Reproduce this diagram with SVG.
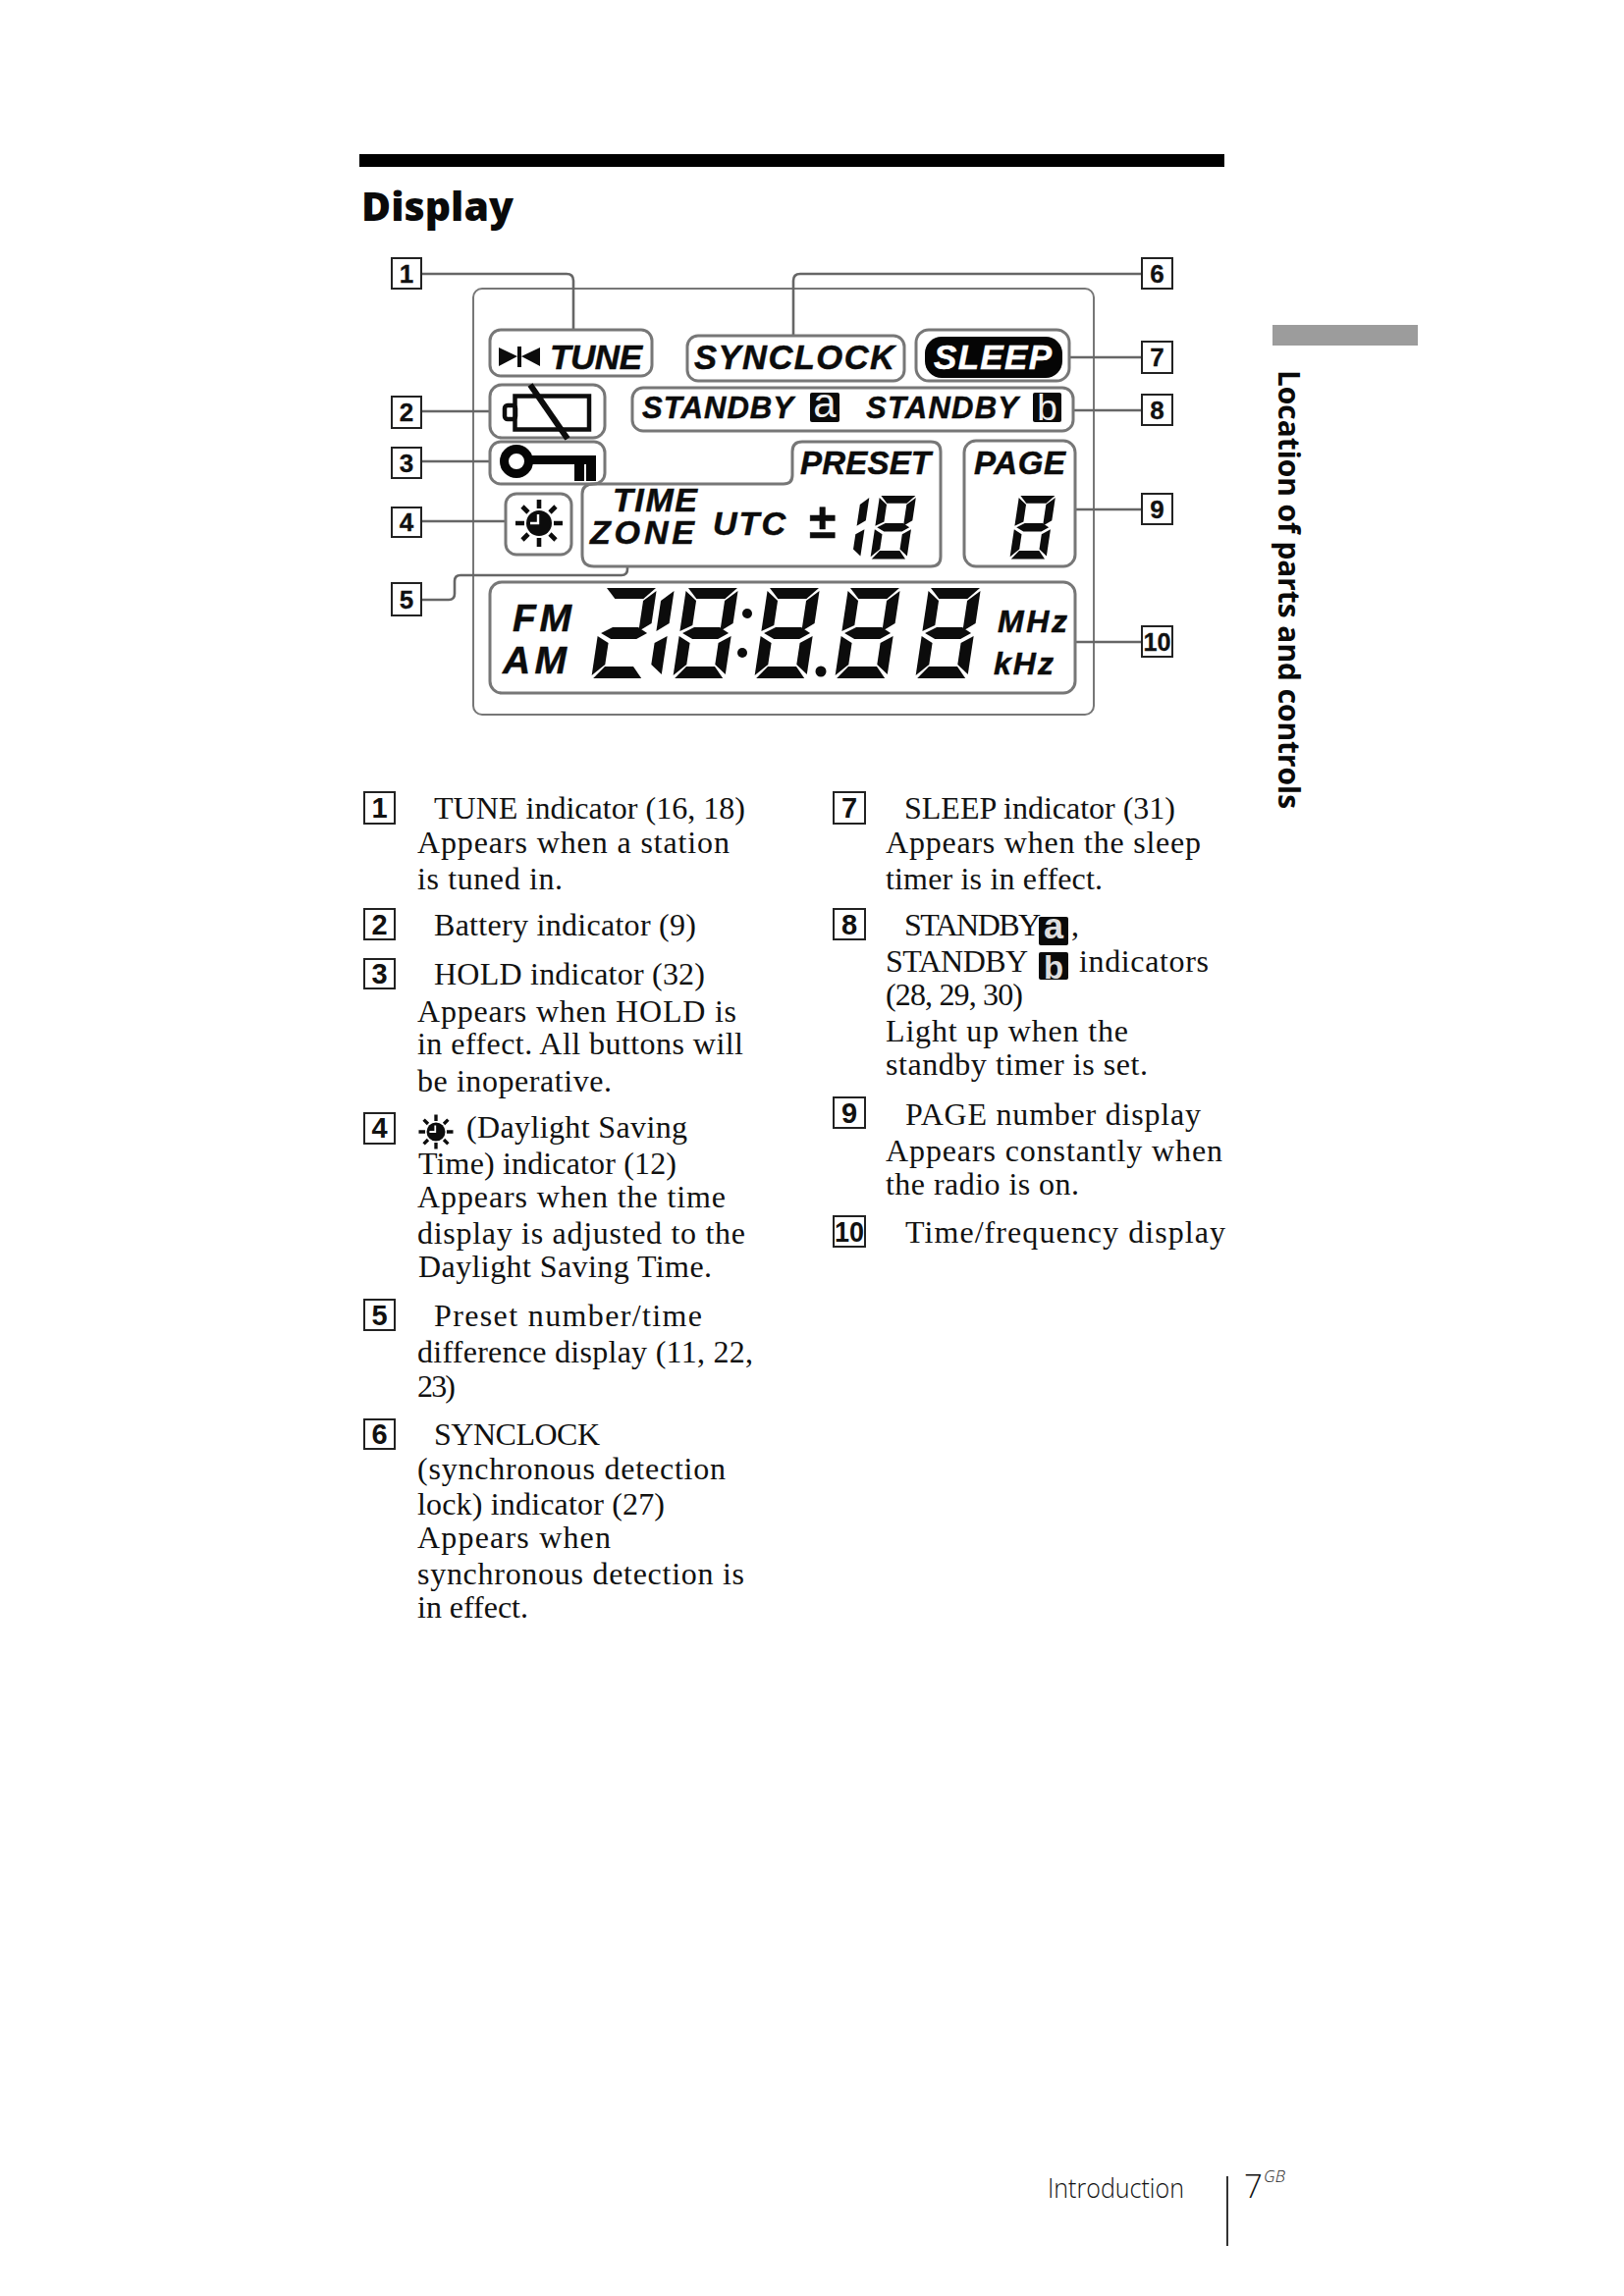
<svg xmlns="http://www.w3.org/2000/svg" width="1654" height="2339" viewBox="0 0 1654 2339">
<style>
.b{font-family:"Liberation Serif",serif;font-size:32px;fill:#111}
.lcd{font-family:"Liberation Sans",Arial,sans-serif;font-weight:700;font-style:italic;fill:#0c0c0c;stroke:#0c0c0c;stroke-width:.5}
.n{fill:#fff;stroke:#222;stroke-width:2}
.nt{font-family:"Liberation Sans",Arial,sans-serif;font-weight:700;font-size:26px;fill:#111;stroke:#111;stroke-width:.3;text-anchor:middle}
.lt{font-family:"Liberation Sans",Arial,sans-serif;font-weight:700;font-size:29px;fill:#111;text-anchor:middle}
.f{fill:none;stroke:#777;stroke-width:3}
.c{fill:none;stroke:#666;stroke-width:2.6}
.ray{stroke:#0c0c0c;stroke-width:4.6;fill:none}
</style>
<defs>
<path id="sa" d="M2,0H52L41,11H12Z"/>
<path id="sb" d="M53,3V36L41,44V13Z"/>
<path id="sc" d="M53,49V88L41,78V56Z"/>
<path id="sd" d="M12,80H41L51,92H2Z"/>
<path id="se" d="M0,49L12,56V78L0,89Z"/>
<path id="sf" d="M0,3L12,13V38L0,44Z"/>
<path id="sg" d="M3,46L14,40H40L50,46L40,52H14Z"/>
<g id="d8"><use href="#sa"/><use href="#sb"/><use href="#sc"/><use href="#sd"/><use href="#se"/><use href="#sf"/><use href="#sg"/></g>
<g id="d2"><use href="#sa"/><use href="#sb"/><use href="#sd"/><use href="#se"/><use href="#sg"/></g>
<g id="d1"><use href="#sb"/><use href="#sc"/></g>
<g id="sun">
<circle r="13" fill="#0c0c0c"/>
<path d="M-1,-9V0H-9" fill="none" stroke="#fff" stroke-width="2.4"/>
<path class="ray" d="M0,-24V-15M0,15V24M-24,0H-15M15,0H24M-17,-17L-11,-11M17,-17L11,-11M-17,17L-11,11M17,17L11,11"/>
</g>
</defs>
<rect width="1654" height="2339" fill="#fff"/>

<g id="page-header">
<rect x="366" y="157" width="881" height="13" fill="#000"/>
<text x="368" y="225" font-family="'Open Sans',sans-serif" font-weight="800" font-size="41" fill="#0a0a0a" textLength="155" lengthAdjust="spacingAndGlyphs">Display</text>
</g>

<g id="side-tab">
<rect x="1296" y="331" width="148" height="21" fill="#9c9c9c"/>
<text transform="translate(1302,377) rotate(90)" font-family="'Open Sans',sans-serif" font-weight="700" font-size="31" fill="#0a0a0a" textLength="447" lengthAdjust="spacingAndGlyphs">Location of parts and controls</text>
</g>

<g id="panel"><rect x="482" y="294" width="632" height="434" rx="9" fill="none" stroke="#777" stroke-width="2"/></g>

<g id="connectors">
<path class="c" d="M429,279H577Q584,279 584,286V336"/>
<path class="c" d="M1163,279H815Q808,279 808,286V342"/>
<path class="c" d="M429,419H499"/>
<path class="c" d="M429,470H499"/>
<path class="c" d="M429,531H515"/>
<path class="c" d="M429,611H457Q463,611 463,605V592Q463,586 469,586H633Q639,586 639,580V577"/>
<path class="c" d="M1089,364H1163"/>
<path class="c" d="M1094,418H1163"/>
<path class="c" d="M1095,519H1163"/>
<path class="c" d="M1095,654H1163"/>
</g>

<g id="lcd-tune">
<rect class="f" x="499" y="336" width="165" height="47" rx="11"/>
<path fill="#0c0c0c" d="M508,354L527,363L508,373ZM550,354L531,363L550,373ZM527,353h4v21h-4Z"/>
<text class="lcd" x="560" y="376" font-size="35" textLength="94">TUNE</text>
</g>
<g id="lcd-synclock">
<rect class="f" x="700" y="342" width="221" height="46" rx="11"/>
<text class="lcd" x="707" y="376" font-size="34.500" textLength="204">SYNCLOCK</text>
</g>
<g id="lcd-sleep">
<rect class="f" x="933" y="336" width="156" height="52" rx="13"/>
<rect x="942" y="343" width="140" height="42" rx="17" fill="#050505"/>
<text class="lcd" x="951" y="376" font-size="35" textLength="120" style="fill:#fff;stroke:#fff">SLEEP</text>
</g>
<g id="lcd-standby">
<rect class="f" x="644" y="395" width="449" height="44" rx="11"/>
<text class="lcd" x="654" y="426" font-size="31" textLength="154">STANDBY</text>
<rect x="825" y="400" width="30" height="30" rx="2" fill="#0a0a0a"/>
<text x="840" y="425" font-family="'Liberation Sans',sans-serif" font-size="42" fill="#eee" text-anchor="middle">a</text>
<text class="lcd" x="882" y="426" font-size="31" textLength="155">STANDBY</text>
<rect x="1052" y="400" width="29" height="30" rx="2" fill="#0a0a0a"/>
<text x="1066.500" y="428" font-family="'Liberation Sans',sans-serif" font-size="37" fill="#eee" text-anchor="middle">b</text>
</g>
<g id="lcd-battery">
<rect class="f" x="499" y="392" width="117" height="54" rx="12"/>
<rect x="524.500" y="403.500" width="75.500" height="34" fill="none" stroke="#0c0c0c" stroke-width="4.500"/>
<rect x="514" y="413" width="11" height="14" rx="3" fill="none" stroke="#0c0c0c" stroke-width="4.500"/>
<path d="M540,392L578,447" stroke="#0c0c0c" stroke-width="6" fill="none"/>
</g>
<g id="lcd-hold">
<rect class="f" x="499" y="450" width="117" height="43" rx="11"/>
<circle cx="526" cy="470" r="12.500" fill="none" stroke="#050505" stroke-width="9"/>
<path fill="#050505" d="M537,464H607V490H597V473H595V490H585V473H537Z"/>
</g>
<g id="lcd-dst">
<rect class="f" x="515" y="503" width="67" height="62" rx="11"/>
<use href="#sun" x="549" y="533"/>
</g>
<g id="lcd-preset">
<path class="f" d="M593,565V503Q593,493 605,493H798Q807,493 807,484V460Q807,450 817,450H948Q958,450 958,460V567Q958,577 948,577H605Q593,577 593,565Z"/>
<text class="lcd" x="815" y="483" font-size="33" textLength="133">PRESET</text>
<text class="lcd" x="624" y="521" font-size="34" textLength="86">TIME</text>
<text class="lcd" x="601" y="554" font-size="34" textLength="106">ZONE</text>
<text class="lcd" x="726" y="545" font-size="34" textLength="74">UTC</text>
<text class="lcd" x="823" y="548" font-size="50">±</text>
<g fill="#0c0c0c">
<use href="#d1" transform="matrix(.7 0 -.105 .7 848.500 505)"/>
<use href="#d8" transform="matrix(.7 0 -.105 .7 896 505)"/>
</g>
</g>
<g id="lcd-page">
<rect class="f" x="982" y="449" width="113" height="128" rx="12"/>
<text class="lcd" x="992" y="483" font-size="33" textLength="93">PAGE</text>
<use href="#d8" fill="#0c0c0c" transform="matrix(.7 0 -.105 .7 1038 505)"/>
</g>
<g id="lcd-frequency">
<rect class="f" x="499" y="593" width="596" height="113" rx="12"/>
<text class="lcd" x="522" y="643" font-size="39" textLength="60">FM</text>
<text class="lcd" x="512" y="686" font-size="39" textLength="65">AM</text>
<g fill="#0c0c0c">
<use href="#d2" transform="matrix(1 0 -.15 1 616 599)"/>
<use href="#d1" transform="matrix(1 0 -.15 1 634 599)"/>
<use href="#d8" transform="matrix(1 0 -.15 1 699 599)"/>
<circle cx="761" cy="625" r="5"/><circle cx="756" cy="665" r="5"/>
<use href="#d8" transform="matrix(1 0 -.15 1 782 599)"/>
<circle cx="836" cy="684" r="5.500"/>
<use href="#d8" transform="matrix(1 0 -.15 1 864 599)"/>
<use href="#d8" transform="matrix(1 0 -.15 1 946 599)"/>
</g>
<text class="lcd" x="1016" y="644" font-size="32" textLength="71">MHz</text>
<text class="lcd" x="1012" y="687" font-size="32" textLength="61">kHz</text>
</g>

<g id="callout-1"><rect class="n" x="399" y="263" width="30" height="31"/><text class="nt" x="414" y="288">1</text></g>
<g id="callout-2"><rect class="n" x="399" y="404" width="30" height="32"/><text class="nt" x="414" y="429">2</text></g>
<g id="callout-3"><rect class="n" x="399" y="456" width="30" height="31"/><text class="nt" x="414" y="481">3</text></g>
<g id="callout-4"><rect class="n" x="399" y="517" width="30" height="30"/><text class="nt" x="414" y="541">4</text></g>
<g id="callout-5"><rect class="n" x="399" y="594" width="30" height="33"/><text class="nt" x="414" y="620">5</text></g>
<g id="callout-6"><rect class="n" x="1163" y="263" width="31" height="31"/><text class="nt" x="1178.500" y="288">6</text></g>
<g id="callout-7"><rect class="n" x="1163" y="348" width="31" height="32"/><text class="nt" x="1178.500" y="373">7</text></g>
<g id="callout-8"><rect class="n" x="1163" y="402" width="31" height="31"/><text class="nt" x="1178.500" y="427">8</text></g>
<g id="callout-9"><rect class="n" x="1163" y="503" width="31" height="31"/><text class="nt" x="1178.500" y="528">9</text></g>
<g id="callout-10"><rect class="n" x="1163" y="638" width="31" height="31"/><text class="nt" x="1178.500" y="663" textLength="28" lengthAdjust="spacingAndGlyphs">10</text></g>

<g id="legend-1"><rect class="n" x="371" y="807" width="31" height="32"/><text class="lt" x="386.500" y="833">1</text>
<text class="b" x="442" y="834" textLength="317">TUNE indicator (16, 18)</text>
<text class="b" x="425" y="869" textLength="318">Appears when a station</text>
<text class="b" x="425" y="906" textLength="148">is tuned in.</text></g>
<g id="legend-2"><rect class="n" x="371" y="926" width="31" height="31"/><text class="lt" x="386.500" y="952">2</text>
<text class="b" x="442" y="953" textLength="267">Battery indicator (9)</text></g>
<g id="legend-3"><rect class="n" x="371" y="977" width="31" height="30"/><text class="lt" x="386.500" y="1002">3</text>
<text class="b" x="442" y="1003" textLength="276">HOLD indicator (32)</text>
<text class="b" x="425" y="1041" textLength="325">Appears when HOLD is</text>
<text class="b" x="425" y="1074" textLength="332">in effect. All buttons will</text>
<text class="b" x="425" y="1112" textLength="198">be inoperative.</text></g>
<g id="legend-4"><rect class="n" x="371" y="1134" width="31" height="31"/><text class="lt" x="386.500" y="1159">4</text>
<use href="#sun" transform="translate(444,1153) scale(.73)"/>
<text class="b" x="475" y="1159" textLength="225">(Daylight Saving</text>
<text class="b" x="426" y="1196" textLength="263">Time) indicator (12)</text>
<text class="b" x="425" y="1230" textLength="314">Appears when the time</text>
<text class="b" x="425" y="1267" textLength="334">display is adjusted to the</text>
<text class="b" x="426" y="1301" textLength="299">Daylight Saving Time.</text></g>
<g id="legend-5"><rect class="n" x="371" y="1324" width="31" height="31"/><text class="lt" x="386.500" y="1350">5</text>
<text class="b" x="442" y="1351" textLength="273">Preset number/time</text>
<text class="b" x="425" y="1388" textLength="342">difference display (11, 22,</text>
<text class="b" x="425" y="1423" textLength="39">23)</text></g>
<g id="legend-6"><rect class="n" x="371" y="1446" width="31" height="30"/><text class="lt" x="386.500" y="1471">6</text>
<text class="b" x="442" y="1472" textLength="169">SYNCLOCK</text>
<text class="b" x="425" y="1507" textLength="314">(synchronous detection</text>
<text class="b" x="425" y="1543" textLength="252">lock) indicator (27)</text>
<text class="b" x="425" y="1577" textLength="197">Appears when</text>
<text class="b" x="425" y="1614" textLength="333">synchronous detection is</text>
<text class="b" x="425" y="1648" textLength="113">in effect.</text></g>

<g id="legend-7"><rect class="n" x="849" y="807" width="32" height="32"/><text class="lt" x="865" y="833">7</text>
<text class="b" x="921" y="834" textLength="276">SLEEP indicator (31)</text>
<text class="b" x="902" y="869" textLength="321">Appears when the sleep</text>
<text class="b" x="902" y="906" textLength="221">timer is in effect.</text></g>
<g id="legend-8"><rect class="n" x="849" y="926" width="32" height="31"/><text class="lt" x="865" y="952">8</text>
<text class="b" x="921" y="953" textLength="139">STANDBY</text>
<rect x="1058" y="934" width="30" height="29" rx="2" fill="#0a0a0a"/>
<text x="1073" y="956" font-family="'Liberation Sans',sans-serif" font-weight="700" font-size="36" fill="#ddd" text-anchor="middle">a</text>
<text class="b" x="1091" y="953">,</text>
<text class="b" x="902" y="990" textLength="145">STANDBY</text>
<rect x="1058" y="970" width="30" height="28" rx="2" fill="#0a0a0a"/>
<text x="1073" y="997" font-family="'Liberation Sans',sans-serif" font-weight="700" font-size="33" fill="#ddd" text-anchor="middle">b</text>
<text class="b" x="1099" y="990" textLength="132">indicators</text>
<text class="b" x="902" y="1024" textLength="140">(28, 29, 30)</text>
<text class="b" x="902" y="1061" textLength="247">Light up when the</text>
<text class="b" x="902" y="1095" textLength="267">standby timer is set.</text></g>
<g id="legend-9"><rect class="n" x="849" y="1118" width="32" height="31"/><text class="lt" x="865" y="1144">9</text>
<text class="b" x="922" y="1146" textLength="301">PAGE number display</text>
<text class="b" x="902" y="1183" textLength="343">Appears constantly when</text>
<text class="b" x="902" y="1217" textLength="197">the radio is on.</text></g>
<g id="legend-10"><rect class="n" x="849" y="1239" width="32" height="31"/><text class="lt" x="865" y="1265" textLength="30" lengthAdjust="spacingAndGlyphs">10</text>
<text class="b" x="922" y="1266" textLength="326">Time/frequency display</text></g>

<g id="footer">
<text x="1067" y="2239" font-family="'Open Sans',sans-serif" font-weight="300" font-size="27" fill="#111" textLength="139" lengthAdjust="spacingAndGlyphs">Introduction</text>
<path d="M1250,2217V2288" stroke="#333" stroke-width="2"/>
<text x="1267" y="2239" font-family="'Open Sans',sans-serif" font-weight="300" font-size="33" fill="#111">7</text>
<text x="1287" y="2223" font-family="'Open Sans',sans-serif" font-style="italic" font-weight="300" font-size="17" fill="#222">GB</text>
</g>
</svg>
